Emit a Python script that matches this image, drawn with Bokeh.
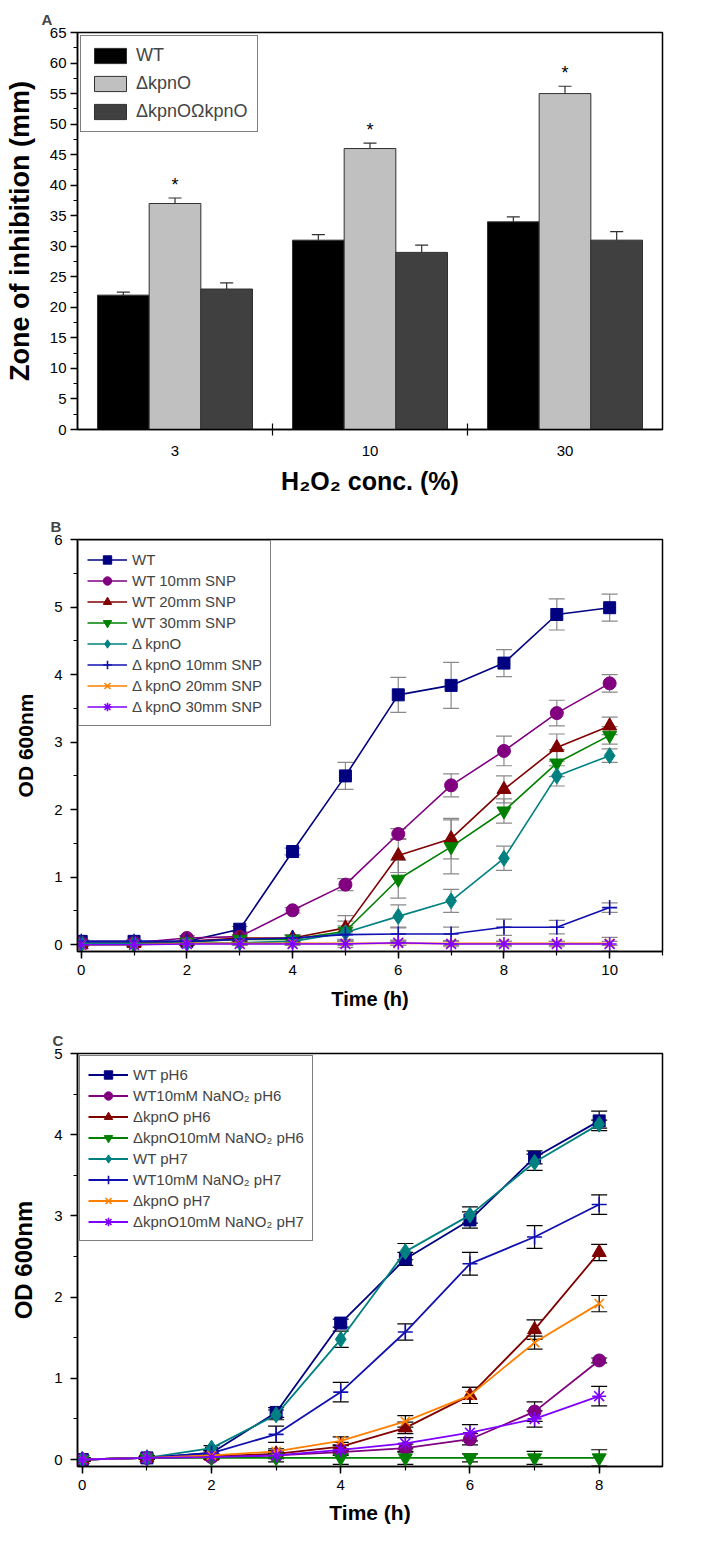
from bokeh.plotting import figure
from bokeh.models import (ColumnDataSource, Whisker, TeeHead, FixedTicker, SingleIntervalTicker,
                          Range1d)
from bokeh.transform import dodge
from bokeh.layouts import column
from bokeh.embed import file_html
from bokeh.resources import INLINE
from bokeh.core.properties import value

FONT = "Liberation Sans"

# ---------------- Panel A data ----------------
conc = ["3", "10", "30"]
wt_A = [22, 31, 34]
wt_A_err = [0.5, 0.9, 0.8]
kpn_A = [37, 46, 55]
kpn_A_err = [0.9, 0.9, 1.2]
comp_A = [23, 29, 31]
comp_A_err = [1.0, 1.2, 1.4]

# ---------------- Panel B data ----------------
hours_B = [0, 1, 2, 3, 4, 5, 6, 7, 8, 9, 10]
B_wt = [0.05, 0.05, 0.05, 0.23, 1.38, 2.50, 3.70, 3.84, 4.17, 4.89, 4.99]
B_wt_err = [0.02, 0.02, 0.02, 0.04, 0.05, 0.20, 0.26, 0.34, 0.20, 0.23, 0.20]
B_wt10 = [0.03, 0.03, 0.10, 0.12, 0.51, 0.89, 1.64, 2.36, 2.87, 3.43, 3.87]
B_wt10_err = [0.02, 0.02, 0.03, 0.03, 0.04, 0.09, 0.08, 0.17, 0.22, 0.19, 0.13]
B_wt20 = [0.00, 0.02, 0.05, 0.10, 0.10, 0.25, 1.32, 1.57, 2.30, 2.92, 3.24]
B_wt20_err = [0.02, 0.02, 0.02, 0.03, 0.05, 0.18, 0.25, 0.30, 0.20, 0.20, 0.13]
B_wt30 = [0.00, 0.00, 0.04, 0.08, 0.08, 0.20, 0.97, 1.45, 1.98, 2.69, 3.10]
B_wt30_err = [0.02, 0.02, 0.02, 0.03, 0.05, 0.15, 0.28, 0.40, 0.18, 0.20, 0.13]
B_kpn = [0.02, 0.02, 0.02, 0.03, 0.05, 0.18, 0.42, 0.65, 1.28, 2.50, 2.80]
B_kpn_err = [0.02, 0.02, 0.02, 0.03, 0.03, 0.10, 0.17, 0.17, 0.18, 0.15, 0.10]
B_kpn10 = [0.05, 0.05, 0.05, 0.08, 0.10, 0.15, 0.16, 0.16, 0.26, 0.26, 0.55]
B_kpn10_err = [0.02, 0.02, 0.02, 0.03, 0.05, 0.10, 0.10, 0.10, 0.12, 0.10, 0.07]
B_kpn20 = [0.00, 0.00, 0.02, 0.02, 0.02, 0.02, 0.02, 0.02, 0.02, 0.02, 0.02]
B_kpn20_err = [0.02, 0.02, 0.02, 0.02, 0.02, 0.03, 0.03, 0.03, 0.03, 0.03, 0.03]
B_kpn30 = [0.00, 0.00, 0.01, 0.01, 0.01, 0.01, 0.03, 0.01, 0.01, 0.01, 0.01]
B_kpn30_err = [0.02, 0.02, 0.02, 0.02, 0.02, 0.05, 0.04, 0.04, 0.04, 0.04, 0.10]

# ---------------- Panel C data ----------------
hours_C = [0, 1, 2, 3, 4, 5, 6, 7, 8]
C_wt6 = [0.00, 0.02, 0.08, 0.58, 1.68, 2.47, 2.95, 3.72, 4.17]
C_wt6_err = [0.02, 0.02, 0.03, 0.06, 0.05, 0.08, 0.10, 0.08, 0.12]
C_wt10_6 = [0.00, 0.02, 0.03, 0.05, 0.09, 0.14, 0.25, 0.59, 1.22]
C_wt10_6_err = [0.02, 0.02, 0.02, 0.03, 0.04, 0.05, 0.07, 0.12, 0.03]
C_kpn6 = [0.00, 0.02, 0.04, 0.07, 0.16, 0.39, 0.79, 1.60, 2.55]
C_kpn6_err = [0.02, 0.02, 0.02, 0.04, 0.05, 0.07, 0.10, 0.12, 0.10]
C_kpn10_6 = [0.00, 0.02, 0.02, 0.02, 0.02, 0.02, 0.02, 0.02, 0.02]
C_kpn10_6_err = [0.02, 0.02, 0.02, 0.05, 0.08, 0.08, 0.05, 0.08, 0.10]
C_wt7 = [0.00, 0.02, 0.14, 0.55, 1.48, 2.56, 3.01, 3.66, 4.13]
C_wt7_err = [0.02, 0.02, 0.03, 0.06, 0.10, 0.10, 0.10, 0.10, 0.05]
C_wt10_7 = [0.00, 0.02, 0.08, 0.31, 0.83, 1.57, 2.41, 2.74, 3.14]
C_wt10_7_err = [0.02, 0.02, 0.03, 0.10, 0.12, 0.10, 0.14, 0.14, 0.12]
C_kpn7 = [0.00, 0.02, 0.05, 0.10, 0.23, 0.47, 0.79, 1.44, 1.92]
C_kpn7_err = [0.02, 0.02, 0.02, 0.03, 0.05, 0.07, 0.10, 0.08, 0.10]
C_kpn10_7 = [0.00, 0.02, 0.03, 0.05, 0.12, 0.20, 0.33, 0.50, 0.78]
C_kpn10_7_err = [0.02, 0.02, 0.02, 0.04, 0.05, 0.07, 0.10, 0.10, 0.12]

W = 692


def style_axes(p, tick_size="15px"):
    p.outline_line_color = "black"
    p.outline_line_width = 1.5
    p.grid.visible = False
    for ax in p.axis:
        ax.axis_line_width = 1.5
        ax.major_tick_line_width = 1.5
        ax.minor_tick_line_width = 1.2
        ax.major_tick_in = 0
        ax.major_tick_out = 7
        ax.minor_tick_in = 0
        ax.minor_tick_out = 4
        ax.major_label_text_font = FONT
        ax.major_label_text_font_size = tick_size
        ax.major_label_text_color = "black"
        ax.axis_label_text_font = FONT
        ax.axis_label_text_font_style = "bold"
        ax.axis_label_text_color = "black"


def panel_title(p, text, offset):
    p.title.text = text
    p.title.align = "left"
    p.title.offset = offset
    p.title.text_font = FONT
    p.title.text_font_size = "15px"
    p.title.text_font_style = "bold"
    p.title.standoff = 10


def style_line_legend(lg, margin):
    lg.location = "top_left"
    lg.margin = margin
    lg.padding = 8
    lg.spacing = 0
    lg.glyph_width = 40
    lg.glyph_height = 21
    lg.label_height = 18
    lg.label_standoff = 5
    lg.label_text_font = FONT
    lg.label_text_font_size = "15px"
    lg.label_text_baseline = "middle"
    lg.border_line_color = "black"
    lg.border_line_width = 1


# ================= Panel A =================
xA = [i + 1 for i in range(len(conc))]
srcA = ColumnDataSource(dict(
    x=xA, wt=wt_A, kpn=kpn_A, comp=comp_A,
    wt_up=[v + e for v, e in zip(wt_A, wt_A_err)],
    kpn_up=[v + e for v, e in zip(kpn_A, kpn_A_err)],
    comp_up=[v + e for v, e in zip(comp_A, comp_A_err)],
    star=[v + e + 2.2 for v, e in zip(kpn_A, kpn_A_err)],
))

pA = figure(width=W, height=497, output_backend="svg", toolbar_location=None,
            x_range=Range1d(0.5, 3.5), y_range=Range1d(0, 65),
            min_border_left=72, min_border_right=30, min_border_top=32, min_border_bottom=68)
style_axes(pA, "15px")
panel_title(pA, "A", -36)
bw = 0.265
specs = [("wt", "wt_up", -bw, "#000000", "WT"),
         ("kpn", "kpn_up", 0.0, "#c0c0c0", "\u0394kpnO"),
         ("comp", "comp_up", bw, "#404040", "\u0394kpnO\u03a9kpnO")]
for col, up, off, color, lab in specs:
    pA.add_layout(Whisker(base=dodge("x", off), upper=up, lower=col, source=srcA,
                          line_color="#303030", line_width=1.2,
                          upper_head=TeeHead(size=13, line_color="#303030", line_width=1.2),
                          lower_head=None, level="underlay"))
    pA.vbar(x=dodge("x", off), top=col, width=bw, bottom=0, source=srcA,
            fill_color=color, line_color="#303030", line_width=1, legend_label=lab)
pA.text(x="x", y="star", text=value("*"), source=srcA, text_align="center",
        text_baseline="middle", text_font=value(FONT), text_font_size="18px",
        text_color="black")
pA.xaxis.ticker = FixedTicker(ticks=xA, minor_ticks=[1.5, 2.5])
pA.xaxis.major_label_overrides = {x: c for x, c in zip(xA, conc)}
pA.xaxis.major_tick_out = 0
pA.xaxis.minor_tick_in = 6
pA.xaxis.minor_tick_out = 6
pA.xaxis.major_label_standoff = 10
pA.xaxis.axis_label = "H\u2082O\u2082 conc. (%)"
pA.xaxis.axis_label_text_font_size = "25px"
pA.xaxis.axis_label_standoff = 8
pA.yaxis.ticker = SingleIntervalTicker(interval=5, num_minor_ticks=2)
pA.yaxis.axis_label = "Zone of inhibition (mm)"
pA.yaxis.axis_label_text_font_size = "27px"
pA.yaxis.axis_label_standoff = 12
pA.yaxis.major_label_standoff = 4
lgA = pA.legend[0]
lgA.location = "top_left"
lgA.margin = 3
lgA.padding = 9
lgA.spacing = 7
lgA.glyph_width = 40
lgA.glyph_height = 19
lgA.label_height = 19
lgA.label_standoff = 6
lgA.label_text_font = FONT
lgA.label_text_font_size = "18px"
lgA.border_line_color = "black"
lgA.border_line_width = 1

# ================= Panel B =================
pB = figure(width=W, height=522, output_backend="svg", toolbar_location=None,
            x_range=Range1d(-0.07, 11.0), y_range=Range1d(-0.1, 6.0),
            min_border_left=73, min_border_right=6, min_border_top=42, min_border_bottom=68)
style_axes(pB, "15px")
panel_title(pB, "B", -27)
seriesB = [
    ("WT", B_wt, B_wt_err, "#000080", "square", 12),
    ("WT 10mm SNP", B_wt10, B_wt10_err, "#800080", "circle", 13),
    ("WT 20mm SNP", B_wt20, B_wt20_err, "#800000", "triangle", 14),
    ("WT 30mm SNP", B_wt30, B_wt30_err, "#008000", "inverted_triangle", 14),
    ("\u0394 kpnO", B_kpn, B_kpn_err, "#008080", "diamond", 16),
    ("\u0394 kpnO 10mm SNP", B_kpn10, B_kpn10_err, "#1010b0", "cross", 15),
    ("\u0394 kpnO 20mm SNP", B_kpn20, B_kpn20_err, "#ff8000", "x", 13),
    ("\u0394 kpnO 30mm SNP", B_kpn30, B_kpn30_err, "#8000ff", "asterisk", 14),
]
for lab, ys, es, color, marker, size in seriesB:
    src = ColumnDataSource(dict(x=hours_B, y=ys,
                                lo=[v - e for v, e in zip(ys, es)],
                                hi=[v + e for v, e in zip(ys, es)]))
    pB.add_layout(Whisker(base="x", upper="hi", lower="lo", source=src,
                          line_color="#8a8a8a", line_width=1.2,
                          upper_head=TeeHead(size=16, line_color="#8a8a8a", line_width=1.2),
                          lower_head=TeeHead(size=16, line_color="#8a8a8a", line_width=1.2),
                          level="underlay"))
    pB.line("x", "y", source=src, line_color=color, line_width=1.6, legend_label=lab)
    if marker in ("cross", "x", "asterisk"):
        pB.scatter("x", "y", source=src, marker=marker, size=size, line_color=color,
                   line_width=1.6, legend_label=lab)
    else:
        pB.scatter("x", "y", source=src, marker=marker, size=size, fill_color=color,
                   line_color=color, line_width=1, legend_label=lab)
pB.xaxis.ticker = SingleIntervalTicker(interval=2, num_minor_ticks=2)
pB.yaxis.ticker = SingleIntervalTicker(interval=1, num_minor_ticks=2)
pB.xaxis.axis_label = "Time (h)"
pB.xaxis.axis_label_text_font_size = "20px"
pB.xaxis.axis_label_standoff = 10
pB.xaxis.major_label_standoff = 6
pB.yaxis.axis_label = "OD 600nm"
pB.yaxis.axis_label_text_font_size = "21px"
pB.yaxis.axis_label_standoff = 14
pB.yaxis.major_label_standoff = 8
style_line_legend(pB.legend[0], 1)

# ================= Panel C =================
pC = figure(width=W, height=508, output_backend="svg", toolbar_location=None,
            x_range=Range1d(-0.074, 8.98), y_range=Range1d(-0.086, 5.0),
            min_border_left=77, min_border_right=1, min_border_top=34, min_border_bottom=61)
style_axes(pC, "15px")
panel_title(pC, "C", -25)
seriesC = [
    ("WT pH6", C_wt6, C_wt6_err, "#000080", "square", 12),
    ("WT10mM NaNO\u2082 pH6", C_wt10_6, C_wt10_6_err, "#800080", "circle", 13),
    ("\u0394kpnO pH6", C_kpn6, C_kpn6_err, "#800000", "triangle", 14),
    ("\u0394kpnO10mM NaNO\u2082 pH6", C_kpn10_6, C_kpn10_6_err, "#008000", "inverted_triangle", 14),
    ("WT pH7", C_wt7, C_wt7_err, "#008080", "diamond", 16),
    ("WT10mM NaNO\u2082 pH7", C_wt10_7, C_wt10_7_err, "#1010b0", "cross", 15),
    ("\u0394kpnO pH7", C_kpn7, C_kpn7_err, "#ff8000", "x", 13),
    ("\u0394kpnO10mM NaNO\u2082 pH7", C_kpn10_7, C_kpn10_7_err, "#8000ff", "asterisk", 14),
]
for lab, ys, es, color, marker, size in seriesC:
    src = ColumnDataSource(dict(x=hours_C, y=ys,
                                lo=[v - e for v, e in zip(ys, es)],
                                hi=[v + e for v, e in zip(ys, es)]))
    pC.add_layout(Whisker(base="x", upper="hi", lower="lo", source=src,
                          line_color="#000000", line_width=1.2,
                          upper_head=TeeHead(size=16, line_color="#000000", line_width=1.2),
                          lower_head=TeeHead(size=16, line_color="#000000", line_width=1.2),
                          level="underlay"))
    pC.line("x", "y", source=src, line_color=color, line_width=1.8, legend_label=lab)
    if marker in ("cross", "x", "asterisk"):
        pC.scatter("x", "y", source=src, marker=marker, size=size, line_color=color,
                   line_width=1.6, legend_label=lab)
    else:
        pC.scatter("x", "y", source=src, marker=marker, size=size, fill_color=color,
                   line_color=color, line_width=1, legend_label=lab)
pC.xaxis.ticker = SingleIntervalTicker(interval=2, num_minor_ticks=2)
pC.yaxis.ticker = SingleIntervalTicker(interval=1, num_minor_ticks=2)
pC.xaxis.axis_label = "Time (h)"
pC.xaxis.axis_label_text_font_size = "21px"
pC.xaxis.axis_label_standoff = 8
pC.xaxis.major_label_standoff = 6
pC.yaxis.axis_label = "OD 600nm"
pC.yaxis.axis_label_text_font_size = "24px"
pC.yaxis.axis_label_standoff = 14
pC.yaxis.major_label_standoff = 8
style_line_legend(pC.legend[0], 2)

layout = column(pA, pB, pC)
open("out.html", "w").write(file_html(layout, INLINE))
